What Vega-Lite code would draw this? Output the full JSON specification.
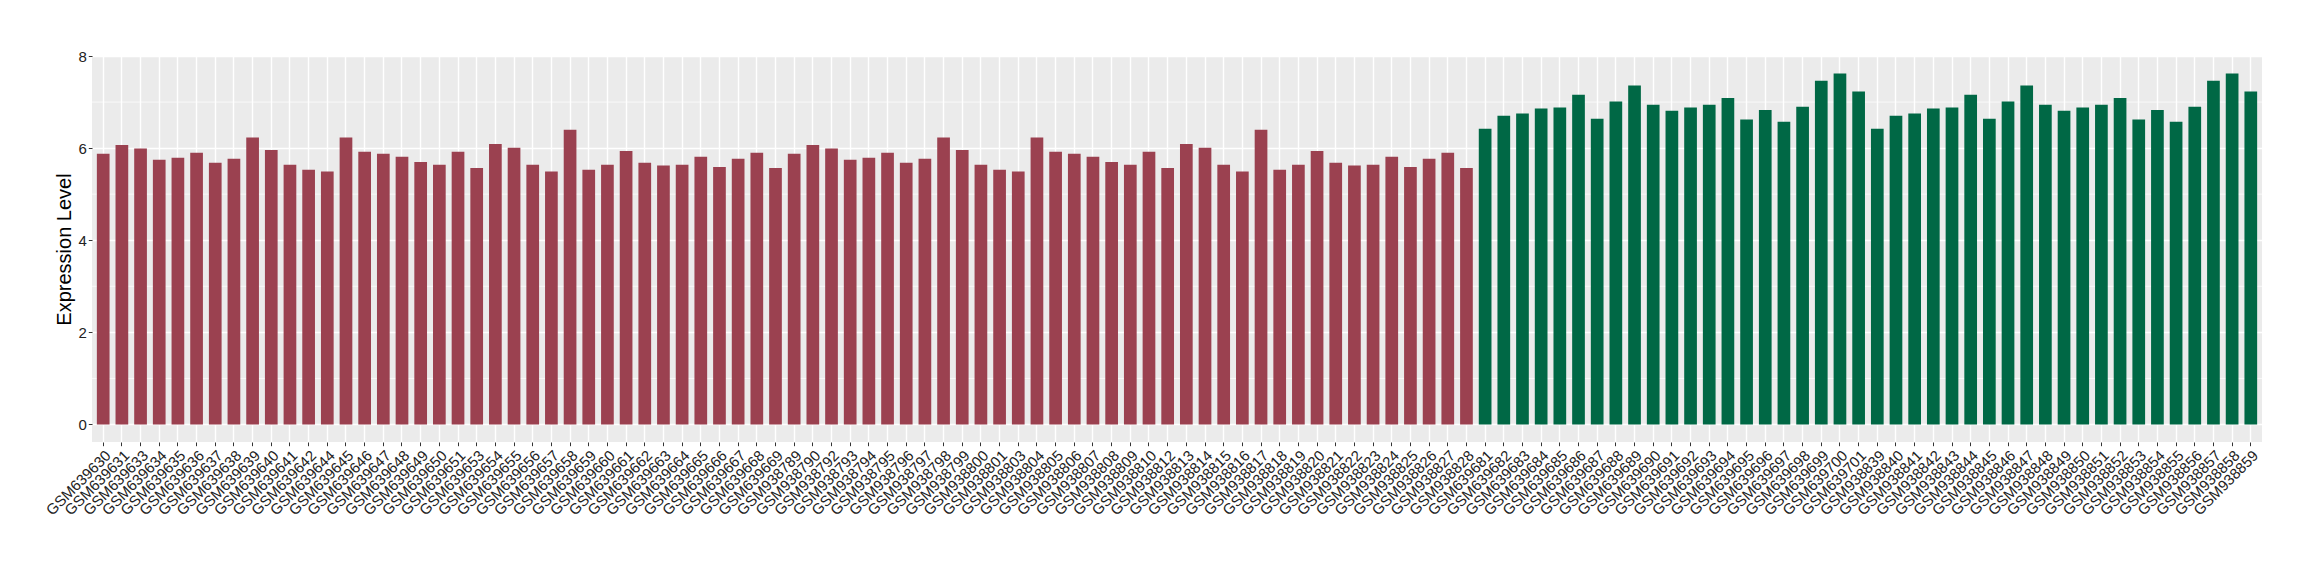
{
  "$schema": "https://vega.github.io/schema/vega-lite/v6.json",
  "width": 2170,
  "height": 386,
  "autosize": {"type": "none"},
  "padding": {"left": 92, "top": 56, "right": 58, "bottom": 138},
  "background": "white",
  "config": {"view": {"fill": "#EBEBEB", "stroke": null}, "font": "Liberation Sans"},
  "datasets": {
    "minor": [{"v": 1}, {"v": 3}, {"v": 5}, {"v": 7}],
    "samples": [
      {"sample": "GSM639630", "value": 5.88, "group": "Group 1"},
      {"sample": "GSM639631", "value": 6.07, "group": "Group 1"},
      {"sample": "GSM639633", "value": 5.99, "group": "Group 1"},
      {"sample": "GSM639634", "value": 5.75, "group": "Group 1"},
      {"sample": "GSM639635", "value": 5.79, "group": "Group 1"},
      {"sample": "GSM639636", "value": 5.90, "group": "Group 1"},
      {"sample": "GSM639637", "value": 5.68, "group": "Group 1"},
      {"sample": "GSM639638", "value": 5.77, "group": "Group 1"},
      {"sample": "GSM639639", "value": 6.23, "group": "Group 1"},
      {"sample": "GSM639640", "value": 5.96, "group": "Group 1"},
      {"sample": "GSM639641", "value": 5.64, "group": "Group 1"},
      {"sample": "GSM639642", "value": 5.53, "group": "Group 1"},
      {"sample": "GSM639644", "value": 5.49, "group": "Group 1"},
      {"sample": "GSM639645", "value": 6.23, "group": "Group 1"},
      {"sample": "GSM639646", "value": 5.92, "group": "Group 1"},
      {"sample": "GSM639647", "value": 5.88, "group": "Group 1"},
      {"sample": "GSM639648", "value": 5.81, "group": "Group 1"},
      {"sample": "GSM639649", "value": 5.70, "group": "Group 1"},
      {"sample": "GSM639650", "value": 5.64, "group": "Group 1"},
      {"sample": "GSM639651", "value": 5.92, "group": "Group 1"},
      {"sample": "GSM639653", "value": 5.57, "group": "Group 1"},
      {"sample": "GSM639654", "value": 6.09, "group": "Group 1"},
      {"sample": "GSM639655", "value": 6.01, "group": "Group 1"},
      {"sample": "GSM639656", "value": 5.64, "group": "Group 1"},
      {"sample": "GSM639657", "value": 5.49, "group": "Group 1"},
      {"sample": "GSM639658", "value": 6.40, "group": "Group 1"},
      {"sample": "GSM639659", "value": 5.53, "group": "Group 1"},
      {"sample": "GSM639660", "value": 5.64, "group": "Group 1"},
      {"sample": "GSM639661", "value": 5.94, "group": "Group 1"},
      {"sample": "GSM639662", "value": 5.68, "group": "Group 1"},
      {"sample": "GSM639663", "value": 5.62, "group": "Group 1"},
      {"sample": "GSM639664", "value": 5.64, "group": "Group 1"},
      {"sample": "GSM639665", "value": 5.81, "group": "Group 1"},
      {"sample": "GSM639666", "value": 5.59, "group": "Group 1"},
      {"sample": "GSM639667", "value": 5.77, "group": "Group 1"},
      {"sample": "GSM639668", "value": 5.90, "group": "Group 1"},
      {"sample": "GSM639669", "value": 5.57, "group": "Group 1"},
      {"sample": "GSM938789", "value": 5.88, "group": "Group 1"},
      {"sample": "GSM938790", "value": 6.07, "group": "Group 1"},
      {"sample": "GSM938792", "value": 5.99, "group": "Group 1"},
      {"sample": "GSM938793", "value": 5.75, "group": "Group 1"},
      {"sample": "GSM938794", "value": 5.79, "group": "Group 1"},
      {"sample": "GSM938795", "value": 5.90, "group": "Group 1"},
      {"sample": "GSM938796", "value": 5.68, "group": "Group 1"},
      {"sample": "GSM938797", "value": 5.77, "group": "Group 1"},
      {"sample": "GSM938798", "value": 6.23, "group": "Group 1"},
      {"sample": "GSM938799", "value": 5.96, "group": "Group 1"},
      {"sample": "GSM938800", "value": 5.64, "group": "Group 1"},
      {"sample": "GSM938801", "value": 5.53, "group": "Group 1"},
      {"sample": "GSM938803", "value": 5.49, "group": "Group 1"},
      {"sample": "GSM938804", "value": 6.23, "group": "Group 1"},
      {"sample": "GSM938805", "value": 5.92, "group": "Group 1"},
      {"sample": "GSM938806", "value": 5.88, "group": "Group 1"},
      {"sample": "GSM938807", "value": 5.81, "group": "Group 1"},
      {"sample": "GSM938808", "value": 5.70, "group": "Group 1"},
      {"sample": "GSM938809", "value": 5.64, "group": "Group 1"},
      {"sample": "GSM938810", "value": 5.92, "group": "Group 1"},
      {"sample": "GSM938812", "value": 5.57, "group": "Group 1"},
      {"sample": "GSM938813", "value": 6.09, "group": "Group 1"},
      {"sample": "GSM938814", "value": 6.01, "group": "Group 1"},
      {"sample": "GSM938815", "value": 5.64, "group": "Group 1"},
      {"sample": "GSM938816", "value": 5.49, "group": "Group 1"},
      {"sample": "GSM938817", "value": 6.40, "group": "Group 1"},
      {"sample": "GSM938818", "value": 5.53, "group": "Group 1"},
      {"sample": "GSM938819", "value": 5.64, "group": "Group 1"},
      {"sample": "GSM938820", "value": 5.94, "group": "Group 1"},
      {"sample": "GSM938821", "value": 5.68, "group": "Group 1"},
      {"sample": "GSM938822", "value": 5.62, "group": "Group 1"},
      {"sample": "GSM938823", "value": 5.64, "group": "Group 1"},
      {"sample": "GSM938824", "value": 5.81, "group": "Group 1"},
      {"sample": "GSM938825", "value": 5.59, "group": "Group 1"},
      {"sample": "GSM938826", "value": 5.77, "group": "Group 1"},
      {"sample": "GSM938827", "value": 5.90, "group": "Group 1"},
      {"sample": "GSM938828", "value": 5.57, "group": "Group 1"},
      {"sample": "GSM639681", "value": 6.42, "group": "Group 2"},
      {"sample": "GSM639682", "value": 6.70, "group": "Group 2"},
      {"sample": "GSM639683", "value": 6.75, "group": "Group 2"},
      {"sample": "GSM639684", "value": 6.86, "group": "Group 2"},
      {"sample": "GSM639685", "value": 6.88, "group": "Group 2"},
      {"sample": "GSM639686", "value": 7.16, "group": "Group 2"},
      {"sample": "GSM639687", "value": 6.64, "group": "Group 2"},
      {"sample": "GSM639688", "value": 7.01, "group": "Group 2"},
      {"sample": "GSM639689", "value": 7.36, "group": "Group 2"},
      {"sample": "GSM639690", "value": 6.94, "group": "Group 2"},
      {"sample": "GSM639691", "value": 6.81, "group": "Group 2"},
      {"sample": "GSM639692", "value": 6.88, "group": "Group 2"},
      {"sample": "GSM639693", "value": 6.94, "group": "Group 2"},
      {"sample": "GSM639694", "value": 7.09, "group": "Group 2"},
      {"sample": "GSM639695", "value": 6.62, "group": "Group 2"},
      {"sample": "GSM639696", "value": 6.83, "group": "Group 2"},
      {"sample": "GSM639697", "value": 6.57, "group": "Group 2"},
      {"sample": "GSM639698", "value": 6.90, "group": "Group 2"},
      {"sample": "GSM639699", "value": 7.46, "group": "Group 2"},
      {"sample": "GSM639700", "value": 7.62, "group": "Group 2"},
      {"sample": "GSM639701", "value": 7.23, "group": "Group 2"},
      {"sample": "GSM938839", "value": 6.42, "group": "Group 2"},
      {"sample": "GSM938840", "value": 6.70, "group": "Group 2"},
      {"sample": "GSM938841", "value": 6.75, "group": "Group 2"},
      {"sample": "GSM938842", "value": 6.86, "group": "Group 2"},
      {"sample": "GSM938843", "value": 6.88, "group": "Group 2"},
      {"sample": "GSM938844", "value": 7.16, "group": "Group 2"},
      {"sample": "GSM938845", "value": 6.64, "group": "Group 2"},
      {"sample": "GSM938846", "value": 7.01, "group": "Group 2"},
      {"sample": "GSM938847", "value": 7.36, "group": "Group 2"},
      {"sample": "GSM938848", "value": 6.94, "group": "Group 2"},
      {"sample": "GSM938849", "value": 6.81, "group": "Group 2"},
      {"sample": "GSM938850", "value": 6.88, "group": "Group 2"},
      {"sample": "GSM938851", "value": 6.94, "group": "Group 2"},
      {"sample": "GSM938852", "value": 7.09, "group": "Group 2"},
      {"sample": "GSM938853", "value": 6.62, "group": "Group 2"},
      {"sample": "GSM938854", "value": 6.83, "group": "Group 2"},
      {"sample": "GSM938855", "value": 6.57, "group": "Group 2"},
      {"sample": "GSM938856", "value": 6.90, "group": "Group 2"},
      {"sample": "GSM938857", "value": 7.46, "group": "Group 2"},
      {"sample": "GSM938858", "value": 7.62, "group": "Group 2"},
      {"sample": "GSM938859", "value": 7.23, "group": "Group 2"}
    ]
  },
  "layer": [
    {
      "data": {"name": "minor"},
      "mark": {"type": "rule", "color": "white", "strokeWidth": 0.7},
      "encoding": {
        "y": {
          "field": "v", "type": "quantitative",
          "scale": {"domain": [-0.381, 8.0], "nice": false, "zero": false},
          "axis": {
            "values": [0, 2, 4, 6, 8], "title": "Expression Level", "titleFontSize": 20,
            "titleFontWeight": "normal", "titleColor": "black", "titlePadding": 3,
            "labelFontSize": 15, "labelColor": "#222222", "labelPadding": 2,
            "tickColor": "#333333", "tickSize": 3.7, "tickWidth": 1,
            "grid": true, "gridColor": "white", "gridWidth": 1.4, "domain": false
          }
        }
      }
    },
    {
      "data": {"name": "samples"},
      "mark": {"type": "bar"},
      "encoding": {
        "x": {
          "field": "sample", "type": "nominal", "sort": null,
          "scale": {"paddingInner": 0.32, "paddingOuter": 0.26},
          "axis": {
            "title": null, "labelAngle": -45, "labelAlign": "right", "labelBaseline": "top",
            "labelFontSize": 15, "labelColor": "#222222", "labelPadding": 2, "labelOverlap": false,
            "labelBound": false, "labelFlush": false,
            "tickColor": "#333333", "tickSize": 3.7, "tickWidth": 1,
            "grid": true, "gridColor": "white", "gridWidth": 1.4, "bandPosition": 0.5,
            "domain": false
          }
        },
        "y": {
          "field": "value", "type": "quantitative",
          "scale": {"domain": [-0.381, 8.0], "nice": false, "zero": false},
          "axis": {
            "values": [0, 2, 4, 6, 8], "title": "Expression Level", "titleFontSize": 20,
            "titleFontWeight": "normal", "titleColor": "black", "titlePadding": 3,
            "labelFontSize": 15, "labelColor": "#222222", "labelPadding": 2,
            "tickColor": "#333333", "tickSize": 3.7, "tickWidth": 1,
            "grid": true, "gridColor": "white", "gridWidth": 1.4, "domain": false
          }
        },
        "color": {
          "field": "group", "type": "nominal",
          "scale": {"domain": ["Group 1", "Group 2"], "range": ["#9B4150", "#006845"]},
          "legend": null
        }
      }
    }
  ]
}
